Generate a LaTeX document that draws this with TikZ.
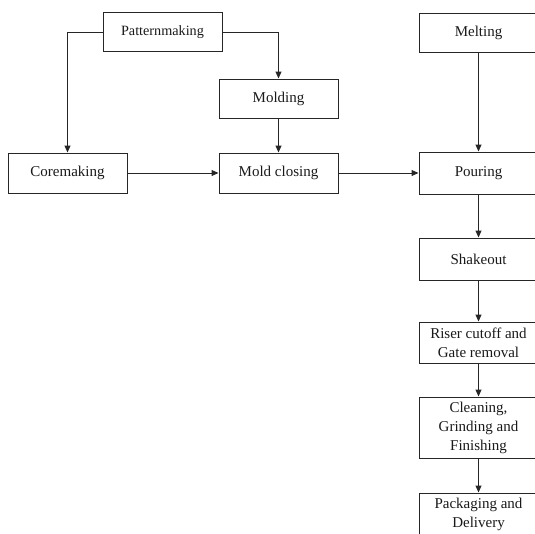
\documentclass[tikz,border=0pt]{standalone}
\usepackage{fontspec}
\setmainfont{Liberation Serif}
\usetikzlibrary{arrows.meta}
\begin{document}
\begin{tikzpicture}[x=1pt,y=-1pt,
  box/.style={draw=black!85,line width=1pt,minimum width=119pt,inner sep=0pt,align=center,
    font=\fontsize{15}{19}\selectfont,text=black!90},
  conn/.style={draw=black!85,line width=1pt,-{Triangle[length=7pt,width=6pt]}}]
\useasboundingbox (0,0) rectangle (535,533);
\clip (0,0) rectangle (535,533);
\node[box,minimum height=39pt,font=\fontsize{14.2}{17}\selectfont] (pat) at (162.5,32) {Patternmaking};
\node[box,minimum height=39pt] (mol) at (278.5,98.5) {Molding};
\node[box,minimum height=40pt] (core) at (67.5,173) {Coremaking};
\node[box,minimum height=40pt] (mc) at (278.5,173) {Mold closing};
\node[box,minimum height=39pt] (melt) at (478.5,32.5) {Melting};
\node[box,minimum height=42pt] (pour) at (478.5,173) {Pouring};
\node[box,minimum height=42pt] (shake) at (478.5,259) {Shakeout};
\node[box,minimum height=41pt] (riser) at (478.5,342.5) {Riser cutoff and\\Gate removal};
\node[box,minimum height=61pt] (clean) at (478.5,427.5) {Cleaning,\\Grinding and\\Finishing};
\node[box,minimum height=42pt] (pack) at (478.5,514) {Packaging and\\Delivery};
\draw[conn] (pat.west) -| (core.north);
\draw[conn] (pat.east) -| (mol.north);
\draw[conn] (mol) -- (mc);
\draw[conn] (core) -- (mc);
\draw[conn] (mc) -- (pour);
\draw[conn] (melt) -- (pour);
\draw[conn] (pour) -- (shake);
\draw[conn] (shake) -- (riser);
\draw[conn] (riser) -- (clean);
\draw[conn] (clean) -- (pack);
\end{tikzpicture}
\end{document}
